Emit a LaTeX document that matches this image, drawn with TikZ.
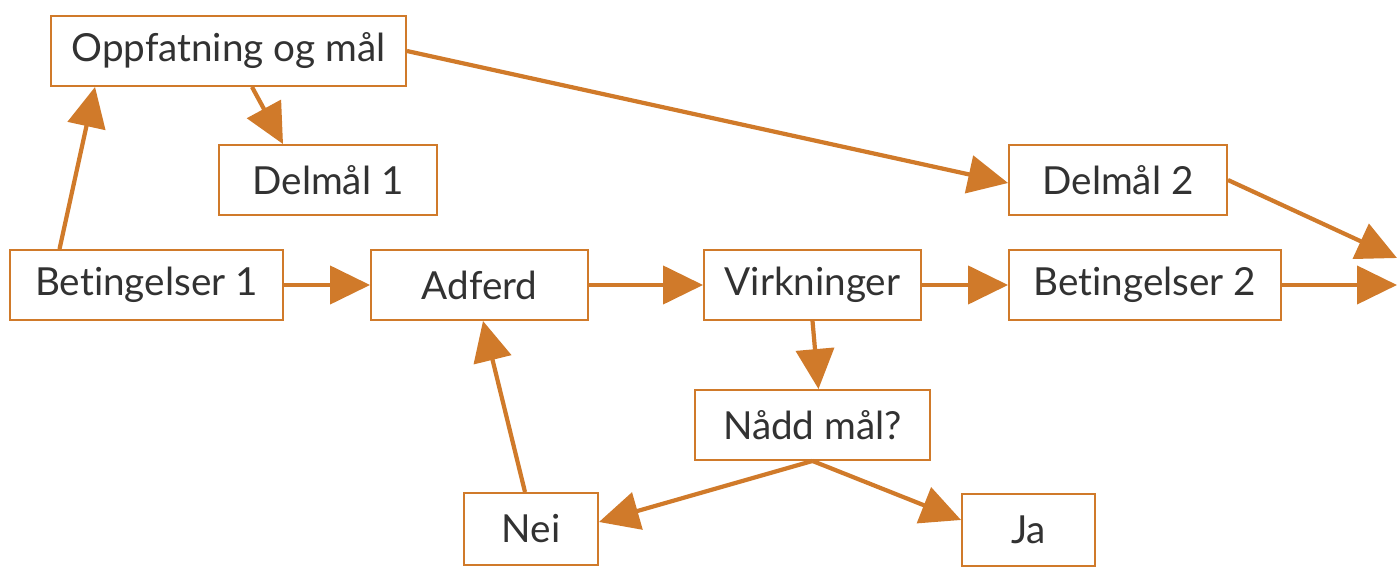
\documentclass[tikz,border=0pt]{standalone}
\usepackage{fontspec}
\setmainfont[Ligatures=NoCommon]{Lato}
\usetikzlibrary{arrows.meta}
\definecolor{ramme}{RGB}{208,122,42}
\definecolor{tekst}{RGB}{50,50,50}
\begin{document}
\begin{tikzpicture}[x=0.02cm,y=-0.02cm]
        \tikzstyle{boks}=[draw=ramme, line width=1.1pt, fill=white, minimum height=1.4cm, inner sep=0pt, text=tekst, font=\fontsize{22}{26}\selectfont]
        \tikzstyle{pil}=[draw=ramme, line width=2.4pt, -{Triangle[length=0.8cm,width=0.76cm]}]
        \useasboundingbox (0,0) rectangle (1397,567);
        % boksene
        \node[boks, minimum width=7.1cm] (opp) at (228.5,51) {Oppfatning og mål};
        \node[boks, minimum width=4.36cm] (del1) at (328,180) {Delmål 1};
        \node[boks, minimum width=4.36cm] (del2) at (1118,180) {Delmål 2};
        \node[boks, minimum width=5.46cm] (bet1) at (146.5,285) {Betingelser 1};
        \node[boks, minimum width=4.34cm] (adf) at (479.5,285) {Adferd};
        \node[boks, minimum width=4.34cm] (virk) at (812.5,285) {Virkninger};
        \node[boks, minimum width=5.44cm] (bet2) at (1145,285) {Betingelser 2};
        \node[boks, minimum width=4.7cm] (naadd) at (812.5,425) {Nådd mål?};
        \node[boks, minimum width=2.68cm, minimum height=1.44cm] (nei) at (531,529) {Nei};
        \node[boks, minimum width=2.66cm, minimum height=1.44cm] (ja) at (1028.5,530) {Ja};
        \coordinate (utA) at (1397,258);
        \coordinate (utB) at (1397,285);
        % pilene
        \draw[pil] ([xshift=-1.74cm]bet1.north) -- ([xshift=-2.67cm]opp.south);
        \draw[pil] ([xshift=0.47cm]opp.south) -- ([xshift=-0.9cm]del1.north);
        \draw[pil] (opp.east) -- ([yshift=-0.06cm]del2.west);
        \draw[pil] (del2.east) -- (utA);
        \draw[pil] (bet1) -- (adf);
        \draw[pil] (adf) -- (virk);
        \draw[pil] (virk) -- (bet2);
        \draw[pil] (bet2.east) -- (utB);
        \draw[pil] (virk.south) -- ([xshift=0.12cm]naadd.north);
        \draw[pil] (naadd.south) -- ([yshift=0.14cm]nei.east);
        \draw[pil] (naadd.south) -- ([yshift=0.2cm]ja.west);
        \draw[pil] ([xshift=-0.12cm]nei.north) -- ([xshift=0.07cm]adf.south);
\end{tikzpicture}
\end{document}
